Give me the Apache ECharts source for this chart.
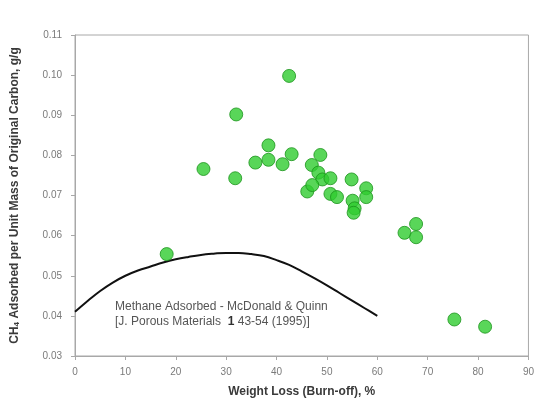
<!DOCTYPE html>
<html>
<head>
<meta charset="utf-8">
<script src="https://cdn.jsdelivr.net/npm/echarts@6/dist/echarts.min.js"></script>
<style>
  html, body { margin: 0; padding: 0; background: #fff; }
  #chart { width: 537px; height: 404px; }
</style>
</head>
<body>
<div id="chart"></div>
<script>
// Measured samples: burn-off (%) vs. methane adsorbed (g/g)
const weightLoss = [18.2, 25.5, 32.0, 31.8, 42.5, 38.4, 38.4, 35.8, 41.2, 43.0,
                    48.7, 47.0, 48.3, 49.1, 50.7, 46.1, 47.1, 50.7, 52.0, 54.9,
                    57.8, 57.8, 55.1, 55.5, 55.3, 67.7, 65.4, 67.7, 75.3, 81.4];
const ch4Adsorbed = [0.0554, 0.0766, 0.0902, 0.0743, 0.0998, 0.0825, 0.0789, 0.0782, 0.0778, 0.0803,
                     0.0801, 0.0776, 0.0757, 0.0740, 0.0743, 0.0710, 0.0726, 0.0704, 0.0696, 0.0740,
                     0.0718, 0.0696, 0.0687, 0.0668, 0.0657, 0.0629, 0.0607, 0.0596, 0.0391, 0.0373];

// McDonald & Quinn reference curve
const curveX = [0, 2.5, 5, 7.5, 10, 12.5, 15, 17.5, 20, 22.5, 25, 27.5, 30,
                32.5, 35, 37.5, 40, 42.5, 45, 47.5, 50, 52.5, 55, 57.5, 60];
const curveY = [0.0410, 0.0437, 0.0462, 0.0483, 0.0500, 0.0513, 0.0523, 0.0533, 0.0541, 0.0547, 0.0552, 0.0555, 0.0557,
                0.0557, 0.0554, 0.0549, 0.0539, 0.0527, 0.0511, 0.0494, 0.0476, 0.0457, 0.0438, 0.0419, 0.0400];

const xTicks = [0, 10, 20, 30, 40, 50, 60, 70, 80, 90];
const yTicks = ['0.03', '0.04', '0.05', '0.06', '0.07', '0.08', '0.09', '0.10', '0.11'];

const noteLines = ['Methane Adsorbed - McDonald & Quinn', '[J. Porous Materials  {b|1} 43-54 (1995)]'];

const points = weightLoss.map((x, i) => [x, ch4Adsorbed[i]]);
const curve = curveX.map((x, i) => [x, curveY[i]]);

const chart = echarts.init(document.getElementById('chart'), null, { renderer: 'canvas' });

const axisGray = '#a8a8a8';
const labelGray = '#7a7a7a';
const titleColor = '#3a3a3a';

chart.setOption({
  animation: false,
  backgroundColor: '#ffffff',
  grid: { left: 75, right: 7, top: 35, bottom: 48, show: true, borderColor: axisGray, borderWidth: 1 },
  xAxis: {
    type: 'value',
    min: xTicks[0],
    max: xTicks[xTicks.length - 1],
    interval: 10,
    name: 'Weight Loss (Burn-off), %',
    nameLocation: 'middle',
    nameGap: 30,
    nameTextStyle: { fontFamily: 'Liberation Sans', fontSize: 12, fontWeight: 'bold', color: titleColor },
    axisLine: { show: true, lineStyle: { color: axisGray, width: 1 } },
    axisTick: { show: true, inside: false, length: 4, lineStyle: { color: axisGray } },
    axisLabel: { fontFamily: 'Liberation Sans', fontSize: 10, color: labelGray, margin: 11 },
    splitLine: { show: false }
  },
  yAxis: {
    type: 'value',
    min: 0.03,
    max: 0.11,
    interval: 0.01,
    name: 'CH{sub|4} Adsorbed per Unit Mass of Original Carbon, g/g',
    nameLocation: 'middle',
    nameGap: 54,
    nameTextStyle: {
      fontFamily: 'Liberation Sans', fontSize: 12, fontWeight: 'bold', color: titleColor,
      rich: {
        sub: { fontFamily: 'Liberation Sans', fontSize: 8, fontWeight: 'bold', color: titleColor, verticalAlign: 'bottom', padding: [5, 0, 0, 0] }
      }
    },
    axisLine: { show: true, lineStyle: { color: axisGray, width: 1 } },
    axisTick: { show: true, inside: false, length: 4, lineStyle: { color: axisGray } },
    axisLabel: {
      fontFamily: 'Liberation Sans', fontSize: 10, color: labelGray, margin: 13,
      formatter: v => yTicks[Math.round((v - 0.03) * 100)]
    },
    splitLine: { show: false }
  },
  series: [
    {
      type: 'line',
      data: curve,
      smooth: 0.4,
      symbol: 'none',
      lineStyle: { color: '#111111', width: 2 },
      z: 2
    },
    {
      type: 'scatter',
      data: points,
      symbol: 'circle',
      symbolSize: 13,
      itemStyle: { color: '#2fcc2f', borderColor: '#1c931c', borderWidth: 1 },
      z: 3
    }
  ],
  graphic: [
    {
      type: 'text',
      left: 115,
      top: 299,
      style: {
        text: noteLines.join('\n'),
        fontFamily: 'Liberation Sans',
        fontSize: 12,
        lineHeight: 15,
        fill: '#555555',
        rich: {
          b: { fontFamily: 'Liberation Sans', fontSize: 12, fontWeight: 'bold', fill: '#303030', lineHeight: 15 }
        }
      }
    }
  ]
});
</script>
</body>
</html>
